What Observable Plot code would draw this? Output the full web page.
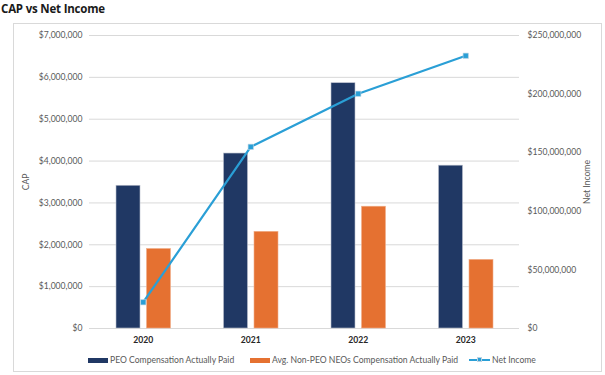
<!DOCTYPE html>
<html>
<head>
<meta charset="utf-8">
<script src="https://cdn.jsdelivr.net/npm/d3@7"></script>
<script src="https://cdn.jsdelivr.net/npm/@observablehq/plot@0.6"></script>
<style>
  html, body { margin: 0; padding: 0; background: #fff; }
  #wrap { position: relative; width: 605px; height: 375px; overflow: hidden; font-family: Lato, "Liberation Sans", sans-serif; }
  #title { position: absolute; left: 1px; top: 1px; font-size: 11.5px; font-weight: bold; color: #1a1a1a; font-family: "Open Sans", Lato, sans-serif; letter-spacing: -0.2px; }
  #frame { position: absolute; left: 13px; top: 23px; width: 589px; height: 349px; border: 1px solid #d9d9d9; box-sizing: border-box; }
  #chart { position: absolute; left: 0; top: 23px; }
  #legend { position: absolute; top: 354px; left: 0; width: 605px; height: 12px; font-size: 8.6px; color: #595959; }
  .item { position: absolute; top: 0; display: flex; align-items: center; height: 12px; white-space: nowrap; }
  .sw { display: inline-block; width: 20px; height: 5px; margin-right: 2px; }
  .ln { position: relative; display: inline-block; width: 21px; height: 2px; background: #2a9fd6; margin-right: 2px; }
  .ln span { position: absolute; left: 8px; top: -2px; width: 5px; height: 5px; background: #2a9fd6; box-sizing: border-box; border: 0.5px solid #bcd3e3; }
</style>
</head>
<body>
<div id="wrap">
  <div id="title">CAP vs Net Income</div>
  <div id="frame"></div>
  <div id="chart"></div>
  <div id="legend"></div>
</div>
<script>
const years = ["2020", "2021", "2022", "2023"];
const peoCap = [3410000, 4180000, 5860000, 3890000];
const neoCap = [1900000, 2310000, 2910000, 1640000];
const netIncome = [22400000, 155000000, 200300000, 232700000];
const leftTicks = [0, 1000000, 2000000, 3000000, 4000000, 5000000, 6000000, 7000000];
const rightTicks = [0, 50000000, 100000000, 150000000, 200000000, 250000000];
const seriesNames = ["PEO Compensation Actually Paid", "Avg. Non-PEO NEOs Compensation Actually Paid", "Net Income"];

const leftMax = 7000000, rightMax = 250000000;
const k = leftMax / rightMax;

const peoData = years.map((y, i) => ({year: y, v: peoCap[i]}));
const neoData = years.map((y, i) => ({year: y, v: neoCap[i]}));
const niData = years.map((y, i) => ({year: y, v: netIncome[i] * k}));

const fmt = d3.format("$,");
const navy = "#203864", orange = "#e57131", blue = "#2a9fd6";

const chart = Plot.plot({
  width: 605,
  height: 330,
  marginLeft: 89,
  marginRight: 86,
  marginTop: 12,
  marginBottom: 25,
  style: {fontFamily: "Lato, 'Liberation Sans', sans-serif", fontSize: "8.6px", color: "#595959", background: "transparent"},
  x: {type: "band", domain: years, padding: 0, round: false},
  y: {domain: [0, leftMax]},
  marks: [
    Plot.gridY(leftTicks, {stroke: "#d9d9d9", strokeOpacity: 1, strokeWidth: 1}),
    Plot.axisY({ticks: leftTicks, tickSize: 0, tickPadding: 7, tickFormat: fmt, label: "CAP", labelAnchor: "center", labelArrow: "none", labelOffset: 67, fill: "#595959"}),
    Plot.axisY(rightTicks.map(t => t * k), {anchor: "right", tickSize: 0, tickPadding: 8, tickFormat: t => fmt(Math.round(t / k)), textAnchor: "start", label: "Net Income", labelAnchor: "center", labelArrow: "none", labelOffset: 70, fill: "#595959"}),
    Plot.axisX({tickSize: 0, tickPadding: 8, label: null, fontWeight: "bold", fill: "#262626"}),
    Plot.barY(peoData, {x: "year", y: "v", fill: navy, stroke: "#b9bfcc", strokeWidth: 0.6, insetLeft: 27, insetRight: 56.5}),
    Plot.barY(neoData, {x: "year", y: "v", fill: orange, stroke: "#f0b08c", strokeWidth: 0.6, insetLeft: 57.5, insetRight: 26}),
    Plot.lineY(niData, {x: "year", y: "v", stroke: blue, strokeWidth: 2.2}),
    Plot.dot(niData, {x: "year", y: "v", symbol: "square", r: 3, fill: blue, stroke: "#c4d6e4", strokeWidth: 0.6})
  ]
});
document.getElementById("chart").appendChild(chart);

const legend = document.getElementById("legend");
const positions = [88, 250, 469];
seriesNames.forEach((name, i) => {
  const item = document.createElement("div");
  item.className = "item";
  item.style.left = positions[i] + "px";
  if (i < 2) {
    const sw = document.createElement("span");
    sw.className = "sw";
    sw.style.background = i === 0 ? navy : orange;
    item.appendChild(sw);
  } else {
    const ln = document.createElement("span");
    ln.className = "ln";
    ln.appendChild(document.createElement("span"));
    item.appendChild(ln);
  }
  const t = document.createElement("span");
  t.textContent = name;
  item.appendChild(t);
  legend.appendChild(item);
});
</script>
</body>
</html>
